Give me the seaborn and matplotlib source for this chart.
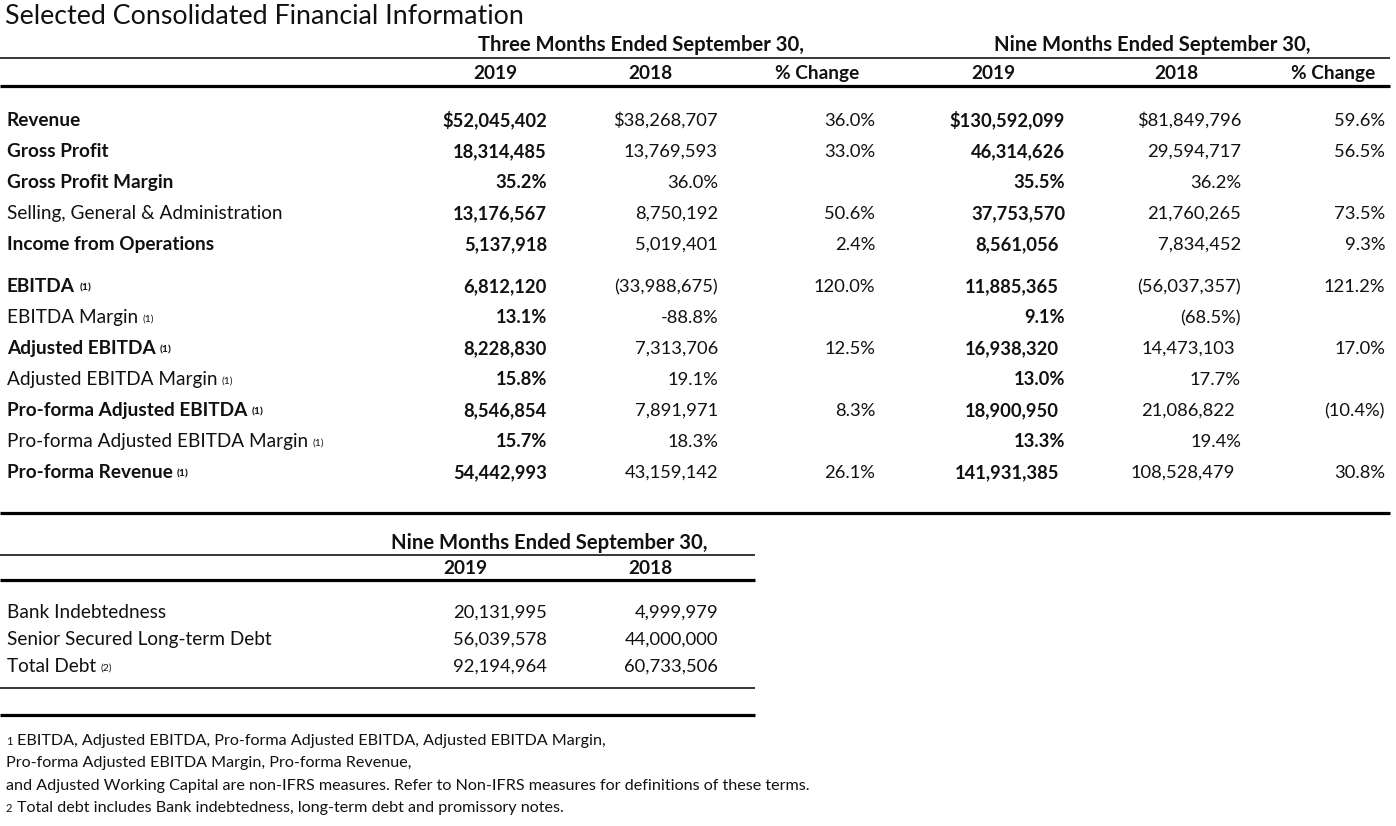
import matplotlib
matplotlib.use('Agg')
import matplotlib.pyplot as plt
import seaborn as sns

# tabela principal
row_labels = ['Revenue', 'Gross Profit', 'Gross Profit Margin', 'Selling, General & Administration',
              'Income from Operations', 'EBITDA', 'EBITDA Margin', 'Adjusted EBITDA',
              'Adjusted EBITDA Margin', 'Pro-forma Adjusted EBITDA', 'Pro-forma Adjusted EBITDA Margin',
              'Pro-forma Revenue']
row_notes = ['', '', '', '', '', '(1)', '(1)', '(1)', '(1)', '(1)', '(1)', '(1)']
row_bold = [True, True, True, False, True, True, False, True, False, True, False, True]

three_2019 = ['$52,045,402', '18,314,485', '35.2%', '13,176,567', '5,137,918', '6,812,120', '13.1%',
              '8,228,830', '15.8%', '8,546,854', '15.7%', '54,442,993']
three_2018 = ['$38,268,707', '13,769,593', '36.0%', '8,750,192', '5,019,401', '(33,988,675)', '-88.8%',
              '7,313,706', '19.1%', '7,891,971', '18.3%', '43,159,142']
three_change = ['36.0%', '33.0%', '', '50.6%', '2.4%', '120.0%', '', '12.5%', '', '8.3%', '', '26.1%']
nine_2019 = ['$130,592,099', '46,314,626', '35.5%', '37,753,570', '8,561,056', '11,885,365', '9.1%',
             '16,938,320', '13.0%', '18,900,950', '13.3%', '141,931,385']
nine_2018 = ['$81,849,796', '29,594,717', '36.2%', '21,760,265', '7,834,452', '(56,037,357)', '(68.5%)',
             '14,473,103', '17.7%', '21,086,822', '19.4%', '108,528,479']
nine_change = ['59.6%', '56.5%', '', '73.5%', '9.3%', '121.2%', '', '17.0%', '', '(10.4%)', '', '30.8%']

period_headers = ['Three Months Ended September 30,', 'Nine Months Ended September 30,']
col_headers = ['2019', '2018', '% Change', '2019', '2018', '% Change']

# tabela da divida
debt_labels = ['Bank Indebtedness', 'Senior Secured Long-term Debt', 'Total Debt']
debt_notes = ['', '', '(2)']
debt_2019 = ['20,131,995', '56,039,578', '92,194,964']
debt_2018 = ['4,999,979', '44,000,000', '60,733,506']

footnote_marks = ['1', '', '', '2']
footnotes = ['EBITDA, Adjusted EBITDA, Pro-forma Adjusted EBITDA, Adjusted EBITDA Margin,',
             'Pro-forma Adjusted EBITDA Margin, Pro-forma Revenue,',
             'and Adjusted Working Capital are non-IFRS measures. Refer to Non-IFRS measures for definitions of these terms.',
             'Total debt includes Bank indebtedness, long-term debt and promissory notes.']

sns.set_theme(style="white")
plt.rcParams['font.family'] = ['Lato', 'DejaVu Sans']

fig = plt.figure(figsize=(13.96, 8.26), dpi=100)
ax = fig.add_axes([0, 0, 1, 1])
ax.set_xlim(0, 1396)
ax.set_ylim(826, 0)
ax.axis('off')

fs_lab = 13.7   # rotulos das linhas
fs_num = 13.2   # valores
fs_head = 14.6  # cabecalhos de periodo
fs_col = 13.7   # cabecalhos de coluna
cor = '#111111'
va = 'baseline'
b = 6  # deslocamento do centro para a linha de base

ax.text(5, 24, 'Selected Consolidated Financial Information', fontsize=19.3, color=cor, va=va)

# cabecalhos
ax.text(641, 45 + b, period_headers[0], fontsize=fs_head, weight='bold', ha='center', va=va, color=cor)
ax.text(1152, 45 + b, period_headers[1], fontsize=fs_head, weight='bold', ha='center', va=va, color=cor)
ax.hlines(58, 0, 1390, color='black', lw=1.1)
col_centers = [495, 650, 817, 993, 1176, 1333]
for xc, h in zip(col_centers, col_headers):
    ax.text(xc, 73 + b, h, fontsize=fs_col, weight='bold', ha='center', va=va, color=cor)
ax.hlines(86, 0, 1390, color='black', lw=2.3)

row_y = [120, 151, 182, 213, 244, 286, 317, 348, 379, 410, 441, 472]
col_right = [547, 718, 875, 1065, 1241, 1385]
columns = [three_2019, three_2018, three_change, nine_2019, nine_2018, nine_change]
# celulas com recuo (alinhamento de parenteses do excel)
recuo = {(4, 3), (5, 3), (7, 3), (9, 3), (11, 3), (7, 4), (9, 4), (11, 4)}

for i, label in enumerate(row_labels):
    y = row_y[i] + b
    t = ax.text(7, y, label, fontsize=fs_lab, weight='bold' if row_bold[i] else 'normal',
                va=va, color=cor)
    if row_notes[i]:
        ax.annotate(row_notes[i], xy=(1, 0.12), xycoords=t, xytext=(3, 0), textcoords='offset points',
                    fontsize=7.5, va='bottom', ha='left', color=cor,
                    weight='bold' if row_bold[i] else 'normal')
    for j, col in enumerate(columns):
        x = col_right[j] - (6 if (i, j) in recuo else 0)
        ax.text(x, y, col[i], fontsize=fs_num, ha='right', va=va, color=cor,
                weight='bold' if j in (0, 3) else 'normal')

ax.hlines(513, 0, 1390, color='black', lw=2.3)

# segunda tabela
ax.text(549, 543 + b, period_headers[1], fontsize=fs_head, weight='bold', ha='center', va=va, color=cor)
ax.hlines(555, 0, 755, color='black', lw=1.1)
ax.text(465, 568 + b, '2019', fontsize=fs_col, weight='bold', ha='center', va=va, color=cor)
ax.text(650, 568 + b, '2018', fontsize=fs_col, weight='bold', ha='center', va=va, color=cor)
ax.hlines(580, 0, 755, color='black', lw=2.3)

debt_y = [612, 639, 666]
for i, label in enumerate(debt_labels):
    t = ax.text(7, debt_y[i] + b, label, fontsize=fs_lab, va=va, color=cor)
    if debt_notes[i]:
        ax.annotate(debt_notes[i], xy=(1, 0.12), xycoords=t, xytext=(3, 0), textcoords='offset points',
                    fontsize=7.5, va='bottom', ha='left', color=cor)
    ax.text(547, debt_y[i] + b, debt_2019[i], fontsize=fs_num, ha='right', va=va, color=cor)
    ax.text(718, debt_y[i] + b, debt_2018[i], fontsize=fs_num, ha='right', va=va, color=cor)

ax.hlines(688, 0, 755, color='black', lw=1.1)
ax.hlines(715, 0, 755, color='black', lw=2.3)

# notas de rodape
foot_y = [745, 767, 790, 812]
for i, nota in enumerate(footnotes):
    x0 = 6
    if footnote_marks[i]:
        ax.text(x0, foot_y[i], footnote_marks[i], fontsize=8, va=va, color=cor)
        x0 = 17
    ax.text(x0, foot_y[i], nota, fontsize=11.6, va=va, color=cor)

plt.savefig('out.png', dpi=100)
